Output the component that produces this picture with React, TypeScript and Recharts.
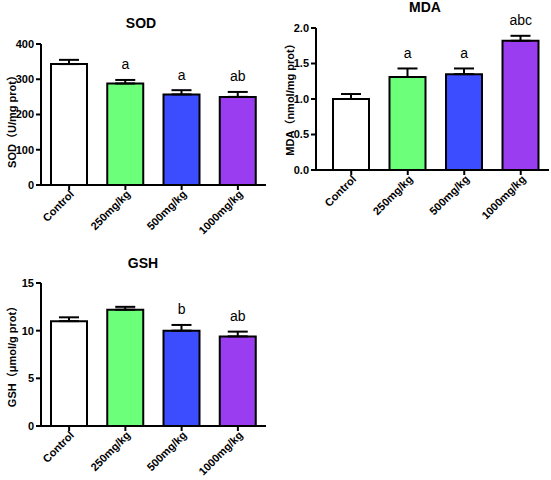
import React from 'react'
import { ComposedChart, Bar, Scatter, XAxis, YAxis, ErrorBar, Cell, LabelList } from 'recharts'

const groups = ['Control', '250mg/kg', '500mg/kg', '1000mg/kg']
const barColors = ['#ffffff', '#6cff7a', '#3c4cff', '#9a3cf0']

const sodMean = [343, 288, 257, 250]
const sodErr = [12, 10, 12, 14]
const sodMarks = ['', 'a', 'a', 'ab']
const sodTicks = [0, 100, 200, 300, 400]

const mdaMean = [1.0, 1.31, 1.35, 1.82]
const mdaErr = [0.07, 0.12, 0.08, 0.07]
const mdaMarks = ['', 'a', 'a', 'abc']
const mdaTicks = [0, 0.5, 1.0, 1.5, 2.0]

const gshMean = [11.0, 12.2, 10.0, 9.4]
const gshErr = [0.4, 0.3, 0.6, 0.5]
const gshMarks = ['', '', 'b', 'ab']
const gshTicks = [0, 5, 10, 15]

const FONT = '"Liberation Sans", Arial, "Noto Sans CJK SC", sans-serif'

function buildRows(mean: number[], err: number[], marks: string[]) {
	return groups.map((g, i) => ({
		name: g,
		mean: mean[i],
		err: [0, err[i]],
		top: mean[i] + err[i],
		mark: marks[i]
	}))
}

const AngledTick = (props: any) => {
	const { x, y, payload } = props
	return (
		<g transform={`translate(${x},${y})`}>
			<text x={2} y={6} textAnchor="end" transform="rotate(-45)" fontSize={11} fontWeight="bold" fontFamily={FONT} fill="#000">
				{payload.value}
			</text>
		</g>
	)
}

type PanelProps = {
	left: number
	top: number
	width: number
	height: number
	margin: { top: number; right: number; left: number; bottom: number }
	xHeight: number
	padLeft: number
	rows: any[]
	ticks: number[]
	decimals: number
}

function Panel({ left, top, width, height, margin, xHeight, padLeft, rows, ticks, decimals }: PanelProps) {
	return (
		<div style={{ position: 'absolute', left, top }}>
			<ComposedChart width={width} height={height} data={rows} margin={margin}>
				<XAxis
					dataKey="name"
					height={xHeight}
					interval={0}
					padding={{ left: padLeft, right: 0 }}
					axisLine={{ stroke: '#000', strokeWidth: 2 }}
					tickLine={{ stroke: '#000', strokeWidth: 2 }}
					tickSize={5}
					tick={<AngledTick />}
				/>
				<YAxis
					width={41}
					domain={[ticks[0], ticks[ticks.length - 1]]}
					ticks={ticks}
					interval={0}
					tickFormatter={(v: number) => v.toFixed(decimals)}
					axisLine={{ stroke: '#000', strokeWidth: 2 }}
					tickLine={{ stroke: '#000', strokeWidth: 2 }}
					tickSize={5}
					tick={{ fill: '#000', fontSize: 11, fontWeight: 'bold', fontFamily: FONT }}
				/>
				<Bar dataKey="mean" barSize={36} stroke="#000" strokeWidth={2} isAnimationActive={false}>
					{rows.map((r, i) => (
						<Cell key={r.name} fill={barColors[i]} />
					))}
					<ErrorBar dataKey="err" width={10} stroke="#000" strokeWidth={2} direction="y" />
				</Bar>
				{/* invisible points at the top of each error bar carry the significance letters */}
				<Scatter dataKey="top" shape={() => <g />} isAnimationActive={false}>
					<LabelList dataKey="mark" position="top" offset={6} fill="#000" fontSize={14} fontFamily={FONT} />
				</Scatter>
			</ComposedChart>
		</div>
	)
}

const Title = ({ x, y, text }: { x: number; y: number; text: string }) => (
	<div
		style={{
			position: 'absolute',
			left: x - 50,
			top: y - 9,
			width: 100,
			textAlign: 'center',
			fontFamily: FONT,
			fontWeight: 'bold',
			fontSize: 14,
			lineHeight: '18px'
		}}
	>
		{text}
	</div>
)

const VLabel = ({ x, y, text }: { x: number; y: number; text: string }) => (
	<div
		style={{
			position: 'absolute',
			left: x - 80,
			top: y - 8,
			width: 160,
			textAlign: 'center',
			fontFamily: FONT,
			fontWeight: 'bold',
			fontSize: 11,
			lineHeight: '16px',
			transform: 'rotate(-90deg)',
			whiteSpace: 'nowrap'
		}}
	>
		{text}
	</div>
)

export default function App() {
	return (
		<div style={{ position: 'absolute', left: 0, top: 0, width: 551, height: 480, background: '#fff' }}>
			<Panel
				left={0}
				top={0}
				width={275}
				height={240}
				margin={{ top: 44, right: 9, left: 0, bottom: 0 }}
				xHeight={55}
				padLeft={0}
				rows={buildRows(sodMean, sodErr, sodMarks)}
				ticks={sodTicks}
				decimals={0}
			/>
			<Panel
				left={275}
				top={0}
				width={276}
				height={240}
				margin={{ top: 28, right: 2, left: 0, bottom: 0 }}
				xHeight={70}
				padLeft={7}
				rows={buildRows(mdaMean, mdaErr, mdaMarks)}
				ticks={mdaTicks}
				decimals={1}
			/>
			<Panel
				left={0}
				top={240}
				width={275}
				height={240}
				margin={{ top: 43, right: 9, left: 0, bottom: 0 }}
				xHeight={54}
				padLeft={0}
				rows={buildRows(gshMean, gshErr, gshMarks)}
				ticks={gshTicks}
				decimals={0}
			/>
			<Title x={141} y={23} text="SOD" />
			<Title x={425} y={7} text="MDA" />
			<Title x={143} y={263} text="GSH" />
			<VLabel x={12} y={119} text="SOD（U/mg prot）" />
			<VLabel x={290} y={97} text="MDA（nmol/mg prot）" />
			<VLabel x={12} y={354} text="GSH（μmol/g prot）" />
		</div>
	)
}
